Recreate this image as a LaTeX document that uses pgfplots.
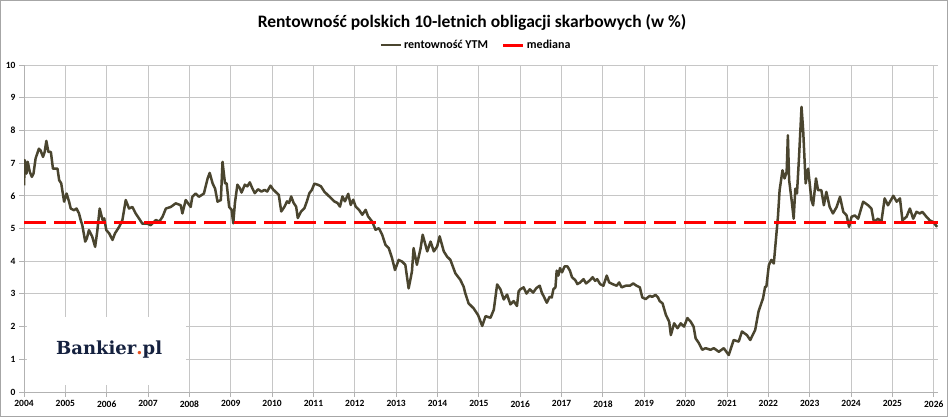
\documentclass[border=0pt]{standalone}
\usepackage{pgfplots}
\pgfplotsset{compat=1.18}
\usepackage{fontspec}
\setmainfont{Carlito}
\newfontfamily\logofont{DejaVu Serif}
\definecolor{ytm}{HTML}{4A452F}
\definecolor{med}{HTML}{FF0000}
\definecolor{navy}{HTML}{15213F}
\definecolor{dotc}{HTML}{E8501E}
\begin{document}
\begin{tikzpicture}[x=1pt,y=1pt]
\useasboundingbox (0,0) rectangle (948,417);
\fill[white] (0,0) rectangle (948,417);
\begin{axis}[
 at={(24pt,25pt)}, anchor=south west,
 scale only axis, width=914pt, height=327pt,
 xmin=2004, xmax=2026.1, ymin=0, ymax=10,
 xtick={2004,...,2026}, minor x tick num=1,
 ytick={0,...,10},
 grid=both,
 major grid style={draw=gray!45, line width=0.9pt},
 minor grid style={draw=gray!35, line width=0.9pt},
 axis lines*=left, axis line style={draw=gray!60, line width=0.9pt},
 tick align=outside, major tick length=5pt, minor tick length=5pt,
 tick style={draw=gray!60, line width=0.9pt},
 ticklabel style={font=\bfseries\fontsize{9.5}{10}\selectfont},
 /pgf/number format/assume math mode=true,
 /pgf/number format/1000 sep={},
 legend style={at={(0.4945,1.061)}, anchor=center, draw=none, fill=none,
   legend columns=2, font=\bfseries\fontsize{12}{13}\selectfont,
   /tikz/every even column/.append style={column sep=12pt}},
 legend cell align=left,
]
\addplot[ytm, line width=2.5pt, line join=round,
  legend image code/.code={\draw[ytm, line width=2.5pt] (0pt,0pt) -- (20pt,0pt);}]
 table[row sep=\\] {
x y\\
2004.00 6.32\\ 2004.02 7.09\\ 2004.06 6.68\\ 2004.09 7.04\\ 2004.14 6.73\\ 2004.19 6.58\\
2004.23 6.68\\ 2004.28 7.14\\ 2004.36 7.44\\ 2004.40 7.39\\ 2004.46 7.19\\ 2004.50 7.34\\
2004.54 7.68\\ 2004.59 7.34\\ 2004.65 7.34\\ 2004.70 6.83\\ 2004.81 6.83\\ 2004.85 6.48\\
2004.90 6.38\\ 2004.97 5.82\\ 2005.03 6.07\\ 2005.09 5.82\\ 2005.13 5.61\\ 2005.21 5.56\\
2005.27 5.61\\ 2005.33 5.46\\ 2005.37 5.26\\ 2005.41 5.10\\ 2005.48 4.60\\ 2005.52 4.70\\
2005.57 4.95\\ 2005.65 4.75\\ 2005.72 4.44\\ 2005.77 4.90\\ 2005.83 5.61\\ 2005.90 5.26\\
2005.94 5.31\\ 2005.99 4.95\\ 2006.06 4.85\\ 2006.14 4.65\\ 2006.20 4.85\\ 2006.30 5.05\\
2006.38 5.26\\ 2006.46 5.87\\ 2006.54 5.61\\ 2006.62 5.66\\ 2006.70 5.46\\ 2006.78 5.31\\
2006.86 5.15\\ 2006.98 5.15\\ 2007.06 5.10\\ 2007.19 5.26\\ 2007.27 5.21\\ 2007.35 5.36\\
2007.43 5.61\\ 2007.55 5.66\\ 2007.67 5.77\\ 2007.79 5.71\\ 2007.83 5.46\\ 2007.91 5.87\\
2008.03 5.66\\ 2008.07 5.97\\ 2008.15 6.07\\ 2008.23 5.97\\ 2008.35 6.07\\ 2008.44 6.53\\
2008.49 6.70\\ 2008.56 6.38\\ 2008.62 6.22\\ 2008.68 5.82\\ 2008.76 5.87\\ 2008.80 7.04\\
2008.86 6.38\\ 2008.90 6.38\\ 2008.96 5.66\\ 2009.02 5.57\\ 2009.06 5.16\\ 2009.10 5.78\\
2009.16 6.34\\ 2009.22 6.23\\ 2009.26 6.10\\ 2009.34 6.34\\ 2009.40 6.29\\ 2009.46 6.41\\
2009.52 6.23\\ 2009.58 6.08\\ 2009.66 6.20\\ 2009.74 6.13\\ 2009.82 6.18\\ 2009.88 6.13\\
2009.96 6.31\\ 2010.02 6.20\\ 2010.10 6.10\\ 2010.16 6.03\\ 2010.22 5.52\\ 2010.30 5.67\\
2010.36 5.83\\ 2010.41 5.78\\ 2010.46 5.98\\ 2010.52 5.78\\ 2010.58 5.67\\ 2010.62 5.32\\
2010.70 5.52\\ 2010.78 5.62\\ 2010.84 5.83\\ 2010.90 6.08\\ 2010.96 6.18\\ 2011.02 6.37\\
2011.10 6.34\\ 2011.18 6.29\\ 2011.26 6.13\\ 2011.34 6.03\\ 2011.42 5.93\\ 2011.50 5.83\\
2011.58 5.78\\ 2011.64 5.67\\ 2011.70 5.98\\ 2011.76 5.83\\ 2011.84 6.06\\ 2011.90 5.72\\
2011.96 5.88\\ 2012.02 5.67\\ 2012.10 5.57\\ 2012.18 5.42\\ 2012.26 5.57\\ 2012.32 5.37\\
2012.42 5.21\\
2012.50 4.96\\ 2012.58 5.01\\ 2012.66 4.81\\ 2012.74 4.50\\ 2012.82 4.40\\ 2012.90 4.09\\
2012.97 3.73\\ 2013.06 4.04\\ 2013.14 3.99\\ 2013.22 3.89\\ 2013.30 3.17\\ 2013.38 3.68\\
2013.42 4.40\\ 2013.50 3.89\\ 2013.59 4.40\\ 2013.64 4.81\\ 2013.75 4.30\\ 2013.83 4.60\\
2013.91 4.30\\ 2013.99 4.45\\ 2014.05 4.76\\ 2014.15 4.30\\ 2014.23 4.14\\ 2014.31 4.04\\
2014.43 3.63\\ 2014.55 3.43\\ 2014.63 3.22\\ 2014.67 3.02\\ 2014.75 2.71\\ 2014.87 2.56\\
2014.98 2.35\\ 2015.04 2.15\\ 2015.08 2.02\\ 2015.16 2.32\\ 2015.28 2.27\\ 2015.36 2.52\\
2015.44 3.29\\ 2015.52 3.14\\ 2015.60 2.83\\ 2015.68 2.98\\ 2015.76 2.68\\ 2015.84 2.78\\
2015.92 2.63\\ 2015.96 3.08\\ 2016.00 3.14\\ 2016.08 3.20\\ 2016.15 3.01\\ 2016.23 3.14\\
2016.31 3.04\\ 2016.39 3.18\\ 2016.47 3.25\\ 2016.52 3.04\\ 2016.58 2.89\\ 2016.64 2.73\\
2016.71 2.91\\ 2016.76 2.89\\ 2016.80 3.14\\ 2016.85 3.20\\ 2016.88 3.71\\ 2016.92 3.56\\
2016.96 3.79\\ 2017.01 3.66\\ 2017.07 3.84\\ 2017.14 3.84\\ 2017.20 3.71\\ 2017.25 3.51\\
2017.33 3.42\\ 2017.38 3.30\\ 2017.45 3.35\\ 2017.53 3.45\\ 2017.59 3.32\\ 2017.67 3.40\\
2017.75 3.51\\ 2017.81 3.40\\ 2017.86 3.45\\ 2017.93 3.30\\ 2018.01 3.25\\ 2018.09 3.56\\
2018.15 3.35\\ 2018.23 3.30\\ 2018.33 3.25\\ 2018.39 3.35\\ 2018.45 3.20\\ 2018.55 3.25\\
2018.65 3.25\\ 2018.73 3.32\\ 2018.81 3.25\\ 2018.89 3.20\\ 2018.95 2.89\\ 2019.03 2.84\\
2019.13 2.94\\ 2019.19 2.91\\ 2019.27 2.97\\ 2019.33 2.89\\ 2019.37 2.78\\
2019.44 2.71\\ 2019.52 2.36\\ 2019.60 2.15\\ 2019.64 1.74\\
2019.72 2.10\\ 2019.80 1.95\\ 2019.88 2.10\\ 2019.96 2.00\\ 2020.04 2.26\\ 2020.12 2.15\\
2020.19 2.00\\ 2020.24 1.64\\ 2020.32 1.49\\ 2020.40 1.29\\ 2020.48 1.34\\ 2020.60 1.29\\
2020.68 1.34\\ 2020.80 1.23\\ 2020.92 1.34\\ 2021.04 1.13\\ 2021.16 1.59\\ 2021.28 1.54\\
2021.36 1.85\\ 2021.48 1.74\\ 2021.56 1.59\\ 2021.68 1.90\\ 2021.76 2.46\\ 2021.87 2.87\\
2021.92 3.22\\ 2021.95 3.22\\ 2022.01 3.88\\ 2022.07 4.04\\ 2022.13 3.93\\ 2022.18 4.65\\
2022.23 5.36\\ 2022.27 6.17\\ 2022.34 6.78\\ 2022.39 6.53\\ 2022.44 6.73\\ 2022.47 7.85\\
2022.50 6.48\\ 2022.56 5.87\\ 2022.61 5.30\\ 2022.65 6.22\\ 2022.69 6.07\\ 2022.74 7.19\\
2022.80 8.72\\ 2022.84 8.00\\ 2022.90 6.38\\ 2022.96 6.83\\ 2023.04 5.87\\ 2023.08 5.71\\
2023.15 6.53\\ 2023.20 6.17\\ 2023.28 6.17\\ 2023.34 5.71\\ 2023.40 6.12\\ 2023.48 5.66\\
2023.56 5.46\\ 2023.65 5.66\\ 2023.73 5.97\\ 2023.81 5.51\\ 2023.89 5.40\\ 2023.95 5.05\\
2024.01 5.36\\ 2024.09 5.40\\ 2024.17 5.30\\ 2024.29 5.82\\ 2024.41 5.71\\ 2024.49 5.61\\
2024.55 5.20\\ 2024.65 5.30\\ 2024.73 5.20\\ 2024.81 5.92\\ 2024.89 5.71\\ 2025.02 6.00\\
2025.10 5.82\\ 2025.18 5.92\\ 2025.24 5.25\\ 2025.34 5.36\\ 2025.42 5.61\\ 2025.50 5.30\\
2025.58 5.51\\ 2025.66 5.46\\ 2025.72 5.51\\ 2025.82 5.36\\ 2025.90 5.25\\ 2025.98 5.20\\
2026.08 5.05\\
};
\addlegendentry{rentowność YTM}
\addplot[med, line width=3pt, dash pattern=on 22pt off 8pt,
  legend image code/.code={\draw[med, line width=3pt] (0pt,0pt) -- (20pt,0pt);}]
 coordinates {(2004,5.19) (2026.1,5.19)};
\addlegendentry{mediana}
\end{axis}
\node[font=\bfseries\fontsize{17.5}{20}\selectfont] at (472,395)
  {Rentowność polskich 10-letnich obligacji skarbowych (w \%)};
\fill[white] (27,32) rectangle (186,100);
\node[anchor=base west, inner sep=0pt, text=navy,
  font=\logofont\bfseries\fontsize{18}{20}\selectfont] at (56,62)
  {Bankier\textcolor{dotc}{.}pl};
\draw[gray!70, line width=1pt] (0.5,0.5) rectangle (947.5,416.5);
\end{tikzpicture}
\end{document}
